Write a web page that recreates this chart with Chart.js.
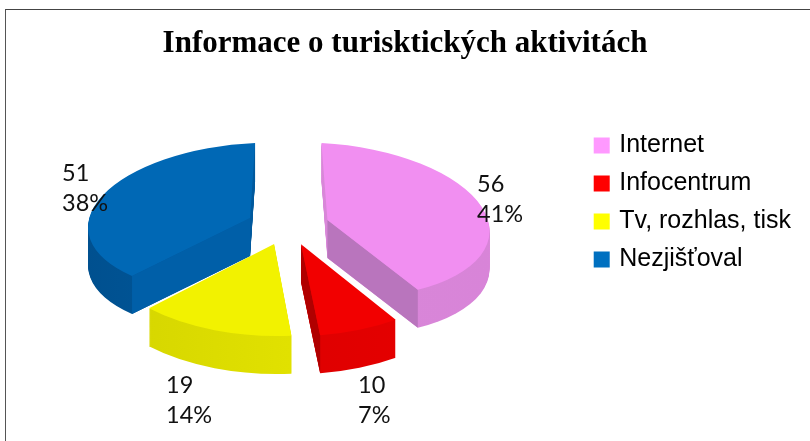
<!DOCTYPE html>
<html lang="cs">
<head>
<meta charset="utf-8">
<title>Informace o turisktických aktivitách</title>
<script src="https://cdn.jsdelivr.net/npm/chart.js@4"></script>
<style>
    html, body { margin: 0; padding: 0; background: #fff; overflow: hidden; }
    #wrap { position: relative; width: 810px; height: 441px; }
    #frame { position: absolute; left: 5px; top: 9px; right: 0; bottom: 0; border-left: 1px solid #555; border-top: 1px solid #444; }
    canvas { position: absolute; left: 0; top: 0; }
</style>
</head>
<body>
<div id="wrap">
    <div id="frame"></div>
    <canvas id="chart" width="810" height="441"></canvas>
</div>
<script>
const titleText = 'Informace o turisktických aktivitách';
const categories = ['Internet', 'Infocentrum', 'Tv, rozhlas, tisk', 'Nezjišťoval'];
const values = [56, 10, 19, 51];

const legendColors = ['#ff99ff', '#ff0000', '#ffff00', '#0070c0'];
const topColors = ['#f18ff1', '#f20000', '#f2f200', '#0068b5'];
const wallLeftColors = ['#d98ad9', '#d60000', '#d4d400', '#00508f'];
const wallRightColors = ['#d884d8', '#e80000', '#ecec00', '#0062ab'];
const faceColors = ['#b975bd', '#b00000', '#d4d400', '#005fa8'];

// 3d look of the pie, the chart itself only knows a flat one
const pieRadius = 165;
const pieCenter = { x: 288, y: 225.5 };
const squash = 0.48;
const depth = 38;
const explode = 41;
const drawOrder = [3, 0, 2, 1];
// fake perspective, one [xx, xy, yx, yy] per slice in pixels
const sliceShape = [
    [162, 8, 6, 77],
    [175, -5, 3, 92],
    [178, 1, 1, 92],
    [162, -7, -5, 75]
];

// where the value / percent labels start
const labelAnchors = [[477, 192], [358, 393], [166, 393], [62, 181]];

function placeSlice(ctx, arc, i, drop) {
    const mid = (arc.startAngle + arc.endAngle) / 2;
    const [xx, xy, yx, yy] = sliceShape[i];
    ctx.translate(pieCenter.x + Math.cos(mid) * explode, pieCenter.y + Math.sin(mid) * explode * squash + drop);
    ctx.transform(xx / pieRadius, xy / pieRadius, yx / pieRadius, yy / pieRadius, 0, 0);
    ctx.translate(-arc.x, -arc.y);
}

function paintArc(ctx, arc, color) {
    const saved = arc.options;
    arc.options = Object.assign({}, saved, { backgroundColor: color, borderWidth: 0 });
    arc.draw(ctx);
    arc.options = saved;
}

function drawFace(ctx, arc, angle, color, i) {
    const mid = (arc.startAngle + arc.endAngle) / 2;
    const [xx, xy, yx, yy] = sliceShape[i];
    const ax = pieCenter.x + Math.cos(mid) * explode;
    const ay = pieCenter.y + Math.sin(mid) * explode * squash;
    const ex = ax + xx * Math.cos(angle) + yx * Math.sin(angle);
    const ey = ay + xy * Math.cos(angle) + yy * Math.sin(angle);
    ctx.beginPath();
    ctx.moveTo(ax, ay);
    ctx.lineTo(ex, ey);
    ctx.lineTo(ex, ey + depth);
    ctx.lineTo(ax, ay + depth);
    ctx.closePath();
    ctx.fillStyle = color;
    ctx.fill();
}

const pie3d = {
    id: 'pie3d',
    beforeDatasetDraw(chart, args) {
        const ctx = chart.ctx;
        const arcs = args.meta.data;
        drawOrder.forEach(i => {
            const arc = arcs[i];

            const wall = ctx.createLinearGradient(arc.x - pieRadius, 0, arc.x + pieRadius, 0);
            wall.addColorStop(0, wallLeftColors[i]);
            wall.addColorStop(1, wallRightColors[i]);
            for (let d = depth; d > 0; d--) {
                ctx.save();
                placeSlice(ctx, arc, i, d);
                paintArc(ctx, arc, wall);
                ctx.restore();
            }

            // cut faces only show when they look down at us
            if (Math.cos(arc.startAngle) < -0.001) drawFace(ctx, arc, arc.startAngle, faceColors[i], i);
            if (Math.cos(arc.endAngle) > 0.001) drawFace(ctx, arc, arc.endAngle, faceColors[i], i);

            ctx.save();
            placeSlice(ctx, arc, i, 0);
            paintArc(ctx, arc, topColors[i]);
            ctx.restore();
        });
        return false;
    },
    afterDatasetsDraw(chart) {
        const ctx = chart.ctx;
        const total = values.reduce((sum, v) => sum + v, 0);
        ctx.save();
        ctx.fillStyle = '#111';
        ctx.font = '23.5px Lato';
        ctx.textAlign = 'left';
        values.forEach((v, i) => {
            const [x, y] = labelAnchors[i];
            ctx.fillText(String(v), x, y);
            ctx.fillText(Math.round(v / total * 100) + '%', x, y + 30);
        });
        ctx.restore();
    }
};

new Chart(document.getElementById('chart'), {
    type: 'pie',
    data: {
        labels: categories,
        datasets: [{
            data: values,
            backgroundColor: legendColors,
            borderWidth: 0,
            radius: pieRadius
        }]
    },
    options: {
        responsive: false,
        animation: false,
        events: [],
        layout: { padding: { left: 9, right: 9, bottom: 36 } },
        plugins: {
            tooltip: { enabled: false },
            title: {
                display: true,
                text: titleText,
                color: '#000',
                font: { family: 'Liberation Serif', size: 31, weight: 'bold' },
                padding: { top: 25, bottom: 11 }
            },
            legend: {
                position: 'right',
                labels: {
                    color: '#111',
                    font: { family: 'Liberation Sans', size: 25 },
                    boxWidth: 10,
                    boxHeight: 10,
                    padding: 13,
                    // thick border in the fill colour: bigger box, tighter gap to the text
                    generateLabels(chart) {
                        return categories.map((name, i) => ({
                            text: name,
                            fillStyle: legendColors[i],
                            strokeStyle: legendColors[i],
                            lineWidth: 6,
                            index: i
                        }));
                    }
                }
            }
        }
    },
    plugins: [pie3d]
});
</script>
</body>
</html>
